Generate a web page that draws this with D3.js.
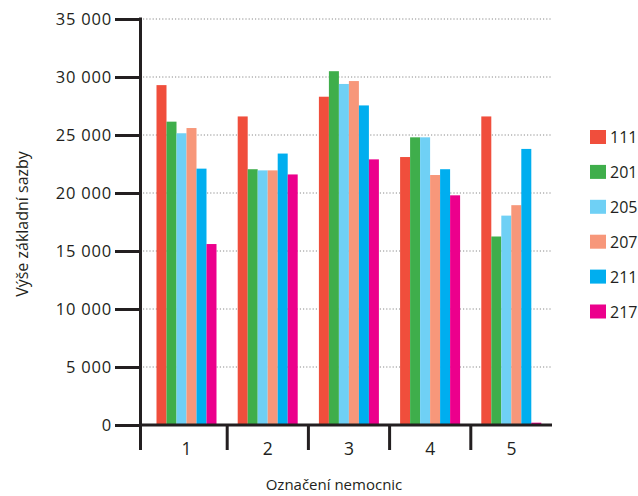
<!DOCTYPE html>
<html>
<head>
<meta charset="utf-8">
<script src="https://cdn.jsdelivr.net/npm/d3@7"></script>
<style>
  html, body { margin: 0; padding: 0; background: #fff; }
  svg { display: block; font-family: "Open Sans", "Noto Sans", sans-serif; }
</style>
</head>
<body>
<svg id="chart" width="638" height="496"></svg>
<script>
// Hospitals (x categories) and base-rate series
const hospitals = ["1", "2", "3", "4", "5"];
const seriesNames = ["111", "201", "205", "207", "211", "217"];
const seriesColors = ["#f04e3c", "#3fae4b", "#6fd0f5", "#f7977a", "#00aeef", "#ec008c"];

const s111 = [29300, 26600, 28300, 23100, 26600];
const s201 = [26150, 22050, 30500, 24800, 16250];
const s205 = [25150, 21950, 29400, 24800, 18050];
const s207 = [25600, 21950, 29650, 21550, 18950];
const s211 = [22100, 23400, 27550, 22050, 23800];
const s217 = [15600, 21600, 22900, 19800, 200];
const seriesValues = [s111, s201, s205, s207, s211, s217];

const yTicks = [0, 5000, 10000, 15000, 20000, 25000, 30000, 35000];

const ink = "#231f20";
const svg = d3.select("#chart");

const x0 = d3.scaleBand().domain(hospitals).range([146, 552]).paddingInner(0).paddingOuter(0);
const x1 = d3.scaleBand().domain(seriesNames).range([10.5, 70.5]).padding(0);
const y = d3.scaleLinear().domain([0, 35000]).range([425, 19]);

const fmt = v => d3.format(",")(v).replace(/,/g, " ");

// dotted gridlines
svg.append("g")
  .selectAll("line")
  .data(yTicks.filter(d => d > 0))
  .join("line")
  .attr("x1", 143).attr("x2", 552)
  .attr("y1", d => y(d)).attr("y2", d => y(d))
  .attr("stroke", "#8a8a8a")
  .attr("stroke-width", 1)
  .attr("stroke-dasharray", "1.2 2");

// bars
const groups = svg.append("g")
  .selectAll("g")
  .data(hospitals)
  .join("g")
  .attr("transform", d => `translate(${x0(d)},0)`);

groups.selectAll("rect")
  .data((h, i) => seriesNames.map((s, j) => ({ s, v: seriesValues[j][i], c: seriesColors[j] })))
  .join("rect")
  .attr("x", d => x1(d.s))
  .attr("width", x1.bandwidth())
  .attr("y", d => y(d.v))
  .attr("height", d => y(0) - y(d.v))
  .attr("fill", d => d.c);

// y axis
const yAxis = d3.axisLeft(y)
  .tickValues(yTicks)
  .tickSize(25)
  .tickPadding(3)
  .tickFormat(fmt);

const gy = svg.append("g").attr("transform", "translate(140,0)").call(yAxis);
gy.select(".domain").remove();
gy.selectAll(".tick line").attr("stroke", ink).attr("stroke-width", 3);
gy.selectAll(".tick text")
  .attr("fill", ink)
  .style("font-size", "16.5px")
  .style("letter-spacing", "0.8px")
  .style("font-family", "'Open Sans', sans-serif");

// axis lines
svg.append("line")
  .attr("x1", 140.5).attr("x2", 140.5)
  .attr("y1", 17.5).attr("y2", 450)
  .attr("stroke", ink).attr("stroke-width", 3);
svg.append("line")
  .attr("x1", 139).attr("x2", 552)
  .attr("y1", y(0)).attr("y2", y(0))
  .attr("stroke", ink).attr("stroke-width", 3);

// category separators below the axis
const seps = hospitals.slice(1).map(h => x0(h));
svg.append("g")
  .selectAll("line")
  .data(seps)
  .join("line")
  .attr("x1", d => d).attr("x2", d => d)
  .attr("y1", y(0)).attr("y2", 450)
  .attr("stroke", ink).attr("stroke-width", 3);

// category labels
const xAxis = d3.axisBottom(x0).tickSize(0).tickPadding(0);
const gx = svg.append("g").call(xAxis);
gx.select(".domain").remove();
gx.selectAll(".tick text")
  .attr("y", 455).attr("dy", null)
  .attr("fill", ink)
  .style("font-size", "17.5px")
  .style("font-family", "'Open Sans', sans-serif");

// axis titles
svg.append("text")
  .attr("x", 334).attr("y", 490)
  .attr("text-anchor", "middle")
  .attr("fill", ink)
  .style("font-size", "15px")
  .text("Označení nemocnic");

svg.append("text")
  .attr("transform", "translate(28,224) rotate(-90)")
  .attr("text-anchor", "middle")
  .attr("fill", ink)
  .style("font-size", "16px")
  .text("Výše základní sazby");

// legend
const legend = svg.append("g")
  .selectAll("g")
  .data(seriesNames)
  .join("g")
  .attr("transform", (d, i) => `translate(590,${130 + i * 34.9})`);

legend.append("rect")
  .attr("width", 16).attr("height", 14)
  .attr("fill", (d, i) => seriesColors[i]);

legend.append("text")
  .attr("x", 20).attr("y", 13)
  .attr("fill", ink)
  .style("font-size", "16px")
  .text(d => d);
</script>
</body>
</html>
